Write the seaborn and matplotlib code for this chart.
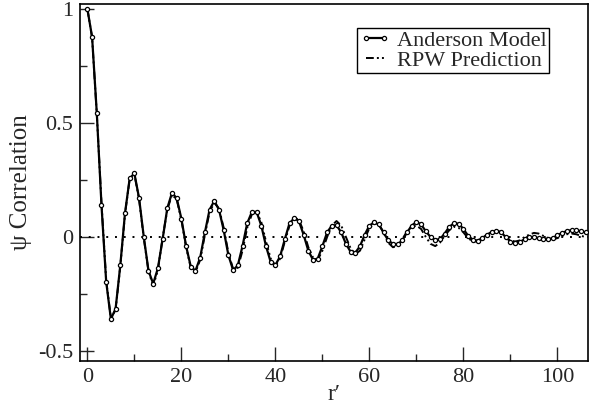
import numpy as np
import pandas as pd
import matplotlib
matplotlib.use("Agg")
import matplotlib.pyplot as plt
import seaborn as sns
from matplotlib.ticker import MultipleLocator

r_values = list(range(0, 107))
anderson = [
    1.0, 0.878, 0.545, 0.14, -0.196, -0.36, -0.315, -0.125, 0.104, 0.257,
    0.279, 0.17, 0.0, -0.148, -0.205, -0.137, -0.01, 0.126, 0.194, 0.17,
    0.08, -0.04, -0.13, -0.148, -0.09, 0.02, 0.12, 0.158, 0.12, 0.03,
    -0.08, -0.145, -0.125, -0.04, 0.06, 0.11, 0.11, 0.05, -0.04, -0.11,
    -0.123, -0.085, -0.01, 0.06, 0.082, 0.07, 0.01, -0.06, -0.10, -0.095,
    -0.04, 0.02, 0.05, 0.052, 0.02, -0.03, -0.065, -0.069, -0.04, 0.01,
    0.05, 0.064, 0.055, 0.02, -0.015, -0.03, -0.032, -0.015, 0.02, 0.05,
    0.066, 0.055, 0.025, 0.0, -0.013, -0.01, 0.015, 0.045, 0.06, 0.058,
    0.035, 0.005, -0.012, -0.016, -0.005, 0.01, 0.022, 0.026, 0.02, 0.0,
    -0.02, -0.028, -0.022, -0.01, 0.0, 0.0, -0.005, -0.01, -0.01, -0.005,
    0.008, 0.018, 0.026, 0.03, 0.03, 0.025, 0.02,
]
rpw = [
    1.0, 0.875, 0.54, 0.15, -0.19, -0.355, -0.32, -0.13, 0.10, 0.255,
    0.275, 0.165, -0.005, -0.15, -0.215, -0.145, -0.005, 0.12, 0.185, 0.165,
    0.075, -0.045, -0.135, -0.155, -0.10, 0.01, 0.11, 0.15, 0.125, 0.04,
    -0.07, -0.14, -0.135, -0.06, 0.04, 0.10, 0.11, 0.065, -0.02, -0.095,
    -0.125, -0.095, -0.02, 0.05, 0.085, 0.075, 0.025, -0.045, -0.09, -0.10,
    -0.06, 0.0, 0.05, 0.07, 0.05, 0.0, -0.05, -0.075, -0.06, -0.01,
    0.04, 0.06, 0.055, 0.02, -0.025, -0.045, -0.04, -0.01, 0.025, 0.045,
    0.05, 0.035, 0.0, -0.03, -0.04, -0.025, 0.005, 0.03, 0.045, 0.04,
    0.02, -0.005, -0.02, -0.025, -0.01, 0.01, 0.025, 0.03, 0.02, 0.0,
    -0.015, -0.02, -0.015, 0.0, 0.01, 0.018, 0.015, 0.005, -0.005, -0.01,
    -0.005, 0.005, 0.012, 0.015, 0.012, 0.005, 0.0,
]
x_ticks = [0, 20, 40, 60, 80, 100]
y_ticks = [-0.5, 0, 0.5, 1]
y_tick_labels = ["-0.5", "0", "0.5", "1"]

sns.set_style("ticks")
plt.rcParams["font.family"] = ["Liberation Serif", "DejaVu Serif"]

df = pd.DataFrame({"r": r_values, "anderson": anderson, "rpw": rpw})

fig = plt.figure(figsize=(5.98, 4.09), dpi=100)
ax = fig.add_axes([80 / 598, 1 - 361 / 409, 508 / 598, 357 / 409])

ax.axhline(0, color="black", linestyle=(0, (1, 3.5)), linewidth=1.4, zorder=1)

sns.lineplot(data=df, x="r", y="rpw", ax=ax, color="black", linewidth=1.4,
             linestyle=(0, (4, 1.6, 1, 1.6, 1, 1.6)), label="RPW Prediction", zorder=2)
sns.lineplot(data=df, x="r", y="anderson", ax=ax, color="black", linewidth=1.6,
             marker="o", markersize=3.0, markerfacecolor="white",
             markeredgecolor="black", markeredgewidth=0.9,
             label="Anderson Model", zorder=3)

ax.set_xlim(-1.57, 106.5)
ax.set_ylim(-0.544, 1.022)
ax.set_xticks(x_ticks)
ax.set_yticks(y_ticks)
ax.set_yticklabels(y_tick_labels)
ax.xaxis.set_minor_locator(MultipleLocator(10))
ax.yaxis.set_minor_locator(MultipleLocator(0.25))
ax.tick_params(which="major", direction="in", length=10, width=1.0,
               labelsize=16, top=False, right=False, pad=5)
ax.tick_params(which="minor", direction="in", length=5, width=1.0,
               top=False, right=False)
for s in ax.spines.values():
    s.set_linewidth(1.2)
    s.set_color("black")

ax.set_xlabel("r\u2032", fontsize=17, labelpad=-2)
ax.set_ylabel("\u03c8 Correlation", fontsize=18, labelpad=4)

handles, labels = ax.get_legend_handles_labels()
order = [labels.index("Anderson Model"), labels.index("RPW Prediction")]
leg = ax.legend([handles[i] for i in order], [labels[i] for i in order],
                loc="upper right", bbox_to_anchor=(0.923, 0.933),
                fontsize=16, frameon=True, fancybox=False, framealpha=1,
                edgecolor="black", handlelength=1.4, handletextpad=0.3,
                borderpad=0.1, labelspacing=0.0, borderaxespad=0.0, numpoints=2)
leg.get_frame().set_linewidth(1.0)

fig.savefig("out.png", dpi=100)
